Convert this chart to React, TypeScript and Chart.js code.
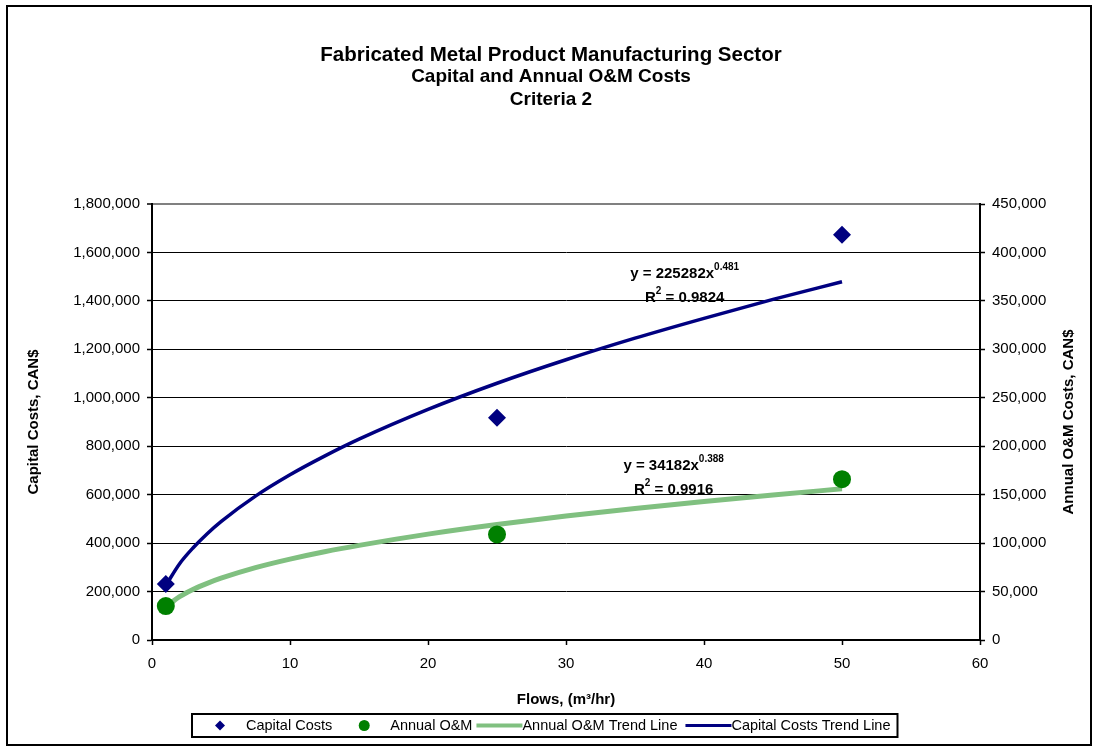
import React, { useEffect, useRef } from "react";
import { Chart, registerables } from "chart.js";

Chart.register(...registerables);

const FONT = '"Liberation Sans", Arial, Helvetica, sans-serif';

// ---- data ----
const flows = [1, 25, 50];
const capitalCosts = [231000, 918000, 1673000];
const annualOM = [35000, 109000, 166000];

const trendFlows = [1, 2, 3, 4, 5, 7.5, 10, 12.5, 15, 20, 25, 30, 35, 40, 45, 50];
const capitalTrend = [225000, 315000, 382000, 439000, 489000, 594000, 682000, 759000, 829000, 952000, 1060000, 1157000, 1246000, 1328000, 1406000, 1479000];
const omTrend = [34200, 44700, 52400, 58500, 63800, 74700, 83500, 91100, 97700, 109300, 119200, 127900, 135800, 143000, 149700, 156000];

const titleLines = ["Fabricated Metal Product Manufacturing Sector", "Capital and Annual O&M Costs", "Criteria 2"];
const xAxisTitle = "Flows, (m\u00B3/hr)";
const leftAxisTitle = "Capital Costs, CAN$";
const rightAxisTitle = "Annual O&M Costs, CAN$";
const legendLabels = ["Capital Costs", "Annual O&M", "Annual O&M Trend Line", "Capital Costs Trend Line"];

const capitalEq = { coef: "225282", exp: "0.481", r2: "0.9824" };
const omEq = { coef: "34182", exp: "0.388", r2: "0.9916" };

const xRange = [0, 60, 10];
const leftRange = [0, 1800000, 200000];
const rightRange = [0, 450000, 50000];

const NAVY = "#000080";
const GREEN = "#008000";
const LIGHT_GREEN = "#80c080";

function drawEquation(ctx: CanvasRenderingContext2D, cx: number, base1: number, coef: string, exp: string, r2: string) {
  const big = `bold 15px ${FONT}`;
  const small = `bold 10px ${FONT}`;
  ctx.textAlign = "left";
  ctx.textBaseline = "alphabetic";
  ctx.fillStyle = "#000";
  ctx.font = big;
  const a = `y = ${coef}x`;
  const wa = ctx.measureText(a).width;
  ctx.font = small;
  const wb = ctx.measureText(exp).width;
  let x = cx - (wa + wb) / 2;
  ctx.font = big;
  ctx.fillText(a, x, base1);
  ctx.font = small;
  ctx.fillText(exp, x + wa, base1 - 8);

  const base2 = base1 + 24;
  ctx.font = big;
  const wr = ctx.measureText("R").width;
  const rest = ` = ${r2}`;
  const wrest = ctx.measureText(rest).width;
  ctx.font = small;
  const w2 = ctx.measureText("2").width;
  x = cx - (wr + w2 + wrest) / 2;
  ctx.font = big;
  ctx.fillText("R", x, base2);
  ctx.font = small;
  ctx.fillText("2", x + wr, base2 - 8);
  ctx.font = big;
  ctx.fillText(rest, x + wr + w2, base2);
}

const decorPlugin = {
  id: "decor",
  beforeDraw(chart: any) {
    const ctx = chart.ctx as CanvasRenderingContext2D;
    ctx.save();
    ctx.fillStyle = "#fff";
    ctx.fillRect(0, 0, chart.width, chart.height);
    ctx.restore();
  },
  afterDraw(chart: any) {
    const ctx = chart.ctx as CanvasRenderingContext2D;
    const area = chart.chartArea;
    const xs = chart.scales.x;
    const yl = chart.scales.y;
    const yr = chart.scales.y1;
    ctx.save();
    // outer frame
    ctx.strokeStyle = "#000";
    ctx.lineWidth = 2;
    ctx.strokeRect(7, 6, 1084, 739);

    // titles
    ctx.fillStyle = "#000";
    ctx.textAlign = "center";
    ctx.textBaseline = "middle";
    const tcx = 551;
    ctx.font = `bold 20.5px ${FONT}`;
    ctx.fillText(titleLines[0], tcx, 55);
    ctx.font = `bold 19px ${FONT}`;
    ctx.fillText(titleLines[1], tcx, 77);
    ctx.fillText(titleLines[2], tcx, 100);

    // right axis title (reads bottom-to-top)
    ctx.save();
    ctx.translate(1069, (area.top + area.bottom) / 2);
    ctx.rotate(-Math.PI / 2);
    ctx.font = `bold 15px ${FONT}`;
    ctx.fillText(rightAxisTitle, 0, 0);
    ctx.restore();

    // trend equations
    drawEquation(ctx, xs.getPixelForValue(38.6), yl.getPixelForValue(1496000), capitalEq.coef, capitalEq.exp, capitalEq.r2);
    drawEquation(ctx, xs.getPixelForValue(37.8), yr.getPixelForValue(175000), omEq.coef, omEq.exp, omEq.r2);

    // legend
    ctx.font = `14.5px ${FONT}`;
    ctx.textBaseline = "middle";
    ctx.textAlign = "left";
    const widths = legendLabels.map((t) => ctx.measureText(t).width);
    const total = 28 + 26 + widths[0] + 32 + 26 + widths[1] + 4 + 46 + widths[2] + 8 + 46 + widths[3] + 7;
    const left = Math.round(545 - total / 2);
    const top = 714;
    const bottom = 737;
    const cy = (top + bottom) / 2;
    ctx.lineWidth = 2;
    ctx.strokeStyle = "#000";
    ctx.strokeRect(left, top, total, bottom - top);
    let x = left + 28;
    // diamond
    ctx.fillStyle = NAVY;
    ctx.beginPath();
    ctx.moveTo(x - 5, cy);
    ctx.lineTo(x, cy - 5);
    ctx.lineTo(x + 5, cy);
    ctx.lineTo(x, cy + 5);
    ctx.closePath();
    ctx.fill();
    x += 26;
    ctx.fillStyle = "#000";
    ctx.fillText(legendLabels[0], x, cy);
    x += widths[0] + 32;
    ctx.fillStyle = GREEN;
    ctx.beginPath();
    ctx.arc(x, cy, 5.5, 0, Math.PI * 2);
    ctx.fill();
    x += 26;
    ctx.fillStyle = "#000";
    ctx.fillText(legendLabels[1], x, cy);
    x += widths[1] + 4;
    ctx.strokeStyle = LIGHT_GREEN;
    ctx.lineWidth = 4;
    ctx.beginPath();
    ctx.moveTo(x, cy);
    ctx.lineTo(x + 46, cy);
    ctx.stroke();
    x += 46;
    ctx.fillStyle = "#000";
    ctx.fillText(legendLabels[2], x, cy);
    x += widths[2] + 8;
    ctx.strokeStyle = NAVY;
    ctx.lineWidth = 3;
    ctx.beginPath();
    ctx.moveTo(x, cy);
    ctx.lineTo(x + 46, cy);
    ctx.stroke();
    x += 46;
    ctx.fillStyle = "#000";
    ctx.fillText(legendLabels[3], x, cy);
    ctx.restore();
  },
};

const fmt = (v: any) => Number(v).toLocaleString("en-US");

export default function App() {
  const ref = useRef<HTMLCanvasElement | null>(null);

  useEffect(() => {
    if (!ref.current) return;
    const chart = new Chart(ref.current, {
      type: "scatter",
      data: {
        datasets: [
          {
            label: legendLabels[0],
            data: flows.map((f, i) => ({ x: f, y: capitalCosts[i] })),
            yAxisID: "y",
            pointStyle: "rectRot",
            pointRadius: 9,
            backgroundColor: NAVY,
            borderColor: NAVY,
            borderWidth: 0,
            showLine: false,
            order: 1,
          },
          {
            label: legendLabels[1],
            data: flows.map((f, i) => ({ x: f, y: annualOM[i] })),
            yAxisID: "y1",
            pointStyle: "circle",
            pointRadius: 9,
            backgroundColor: GREEN,
            borderColor: GREEN,
            borderWidth: 0,
            showLine: false,
            order: 2,
          },
          {
            label: legendLabels[2],
            data: trendFlows.map((f, i) => ({ x: f, y: omTrend[i] })),
            yAxisID: "y1",
            showLine: true,
            pointRadius: 0,
            borderColor: LIGHT_GREEN,
            backgroundColor: LIGHT_GREEN,
            borderWidth: 5,
            cubicInterpolationMode: "monotone",
            order: 3,
          },
          {
            label: legendLabels[3],
            data: trendFlows.map((f, i) => ({ x: f, y: capitalTrend[i] })),
            yAxisID: "y",
            showLine: true,
            pointRadius: 0,
            borderColor: NAVY,
            backgroundColor: NAVY,
            borderWidth: 3.5,
            cubicInterpolationMode: "monotone",
            order: 4,
          },
        ],
      },
      options: {
        responsive: false,
        animation: false,
        devicePixelRatio: 1,
        layout: { padding: { top: 204, left: 0, right: 0, bottom: 0 } },
        plugins: {
          legend: { display: false },
          title: { display: false },
          tooltip: { enabled: false },
        },
        scales: {
          x: {
            type: "linear",
            position: "bottom",
            min: xRange[0],
            max: xRange[1],
            ticks: { stepSize: xRange[2], color: "#000", font: { family: FONT, size: 15 }, padding: 10 },
            grid: { drawOnChartArea: false, color: "#000", tickColor: "#000", tickLength: 5, tickWidth: 1.5 },
            border: { color: "#000", width: 2 },
            title: {
              display: true,
              text: xAxisTitle,
              color: "#000",
              font: { family: FONT, size: 15, weight: "bold" },
              padding: { top: 0, bottom: 42 },
            },
            afterFit: (s: any) => {
              s.height = 111;
            },
          },
          y: {
            type: "linear",
            position: "left",
            min: leftRange[0],
            max: leftRange[1],
            ticks: { stepSize: leftRange[2], color: "#000", font: { family: FONT, size: 15 }, padding: 7, callback: fmt },
            grid: {
              color: (c: any) => (c.tick && c.tick.value === leftRange[1] ? "#808080" : "#000"),
              lineWidth: (c: any) => (c.tick && c.tick.value === leftRange[1] ? 2 : 1),
              tickColor: "#000",
              tickLength: 5,
              tickWidth: 1.5,
            },
            border: { color: "#000", width: 2 },
            title: {
              display: true,
              text: leftAxisTitle,
              color: "#000",
              font: { family: FONT, size: 15, weight: "bold" },
              padding: { top: 25, bottom: 0 },
            },
            afterFit: (s: any) => {
              s.width = 152;
            },
          },
          y1: {
            type: "linear",
            position: "right",
            min: rightRange[0],
            max: rightRange[1],
            ticks: { stepSize: rightRange[2], color: "#000", font: { family: FONT, size: 15 }, padding: 7, callback: fmt },
            grid: { drawOnChartArea: false, color: "#000", tickColor: "#000", tickLength: 5, tickWidth: 1.5 },
            border: { color: "#000", width: 2 },
            afterFit: (s: any) => {
              s.width = 118;
            },
          },
        },
      } as any,
      plugins: [decorPlugin],
    });
    return () => chart.destroy();
  }, []);

  return (
    <canvas
      ref={ref}
      width={1098}
      height={751}
      style={{ position: "absolute", left: 0, top: 0, display: "block" }}
    />
  );
}
